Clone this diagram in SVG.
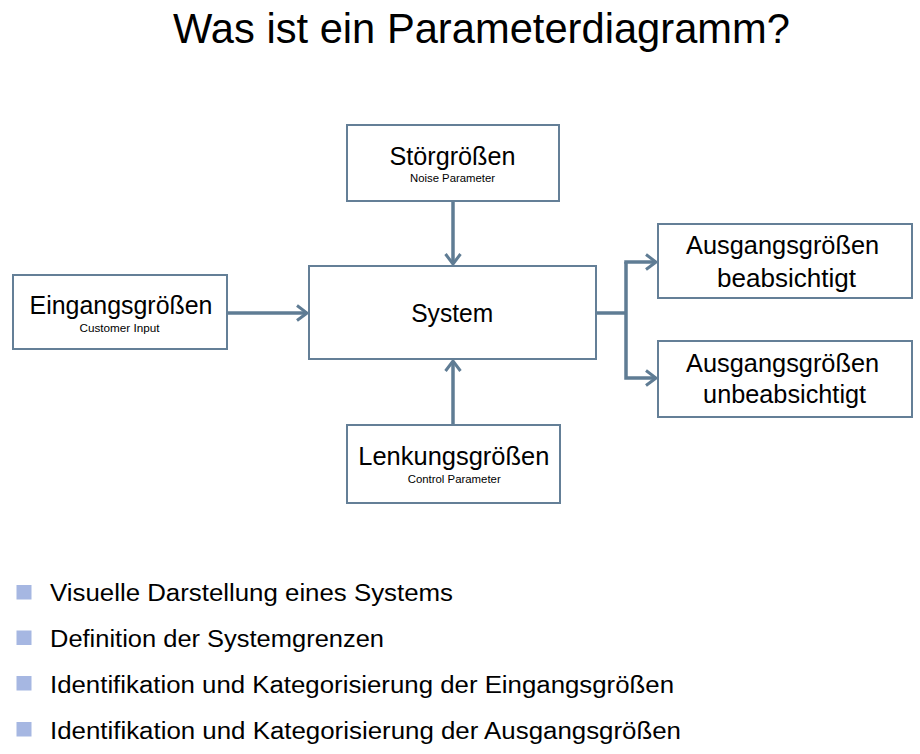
<svg xmlns="http://www.w3.org/2000/svg" width="920" height="754" viewBox="0 0 920 754">
<defs>
<style>
text{font-family:"Liberation Sans",Arial,sans-serif;fill:#000;}
.title{font-size:42px;}
.main{font-size:25.5px;text-anchor:middle;}
.sub{font-size:11px;text-anchor:middle;}
.bul{font-size:23.5px;}
.box{fill:#fff;stroke:#647f97;stroke-width:2;}
.con{fill:none;stroke:#5f7c94;stroke-width:3.5;}
.sq{fill:#a6b7e2;}
</style>
<marker id="arr" markerUnits="userSpaceOnUse" viewBox="0 0 14 18" markerWidth="14" markerHeight="18" refX="12" refY="9" orient="auto">
<path d="M2,1.5 L12,9 L2,16.5" fill="none" stroke="#5f7c94" stroke-width="3"/>
</marker>
</defs>
<rect width="920" height="754" fill="#fff"/>
<text class="title" x="173" y="43" textLength="617" lengthAdjust="spacingAndGlyphs">Was ist ein Parameterdiagramm?</text>

<g id="connectors">
<line class="con" x1="453" y1="201" x2="453" y2="264" marker-end="url(#arr)"/>
<line class="con" x1="227" y1="313" x2="307" y2="313" marker-end="url(#arr)"/>
<line class="con" x1="453" y1="425" x2="453" y2="361" marker-end="url(#arr)"/>
<line class="con" x1="596" y1="313" x2="626" y2="313"/>
<polyline class="con" points="626,262 626,378 656,378" marker-end="url(#arr)"/>
<line class="con" x1="624.25" y1="262" x2="656" y2="262" marker-end="url(#arr)"/>
</g>

<g id="stoerg">
<rect class="box" x="347" y="125" width="212" height="76"/>
<text class="main" x="452.5" y="165" textLength="126" lengthAdjust="spacingAndGlyphs">Störgrößen</text>
<text class="sub" x="452.5" y="181.5" textLength="85" lengthAdjust="spacingAndGlyphs">Noise Parameter</text>
</g>

<g id="eingang">
<rect class="box" x="13" y="275" width="214" height="74"/>
<text class="main" x="121" y="313.5" textLength="183" lengthAdjust="spacingAndGlyphs">Eingangsgrößen</text>
<text class="sub" x="119.5" y="331.5" textLength="80" lengthAdjust="spacingAndGlyphs">Customer Input</text>
</g>

<g id="system">
<rect class="box" x="309" y="266" width="287" height="93"/>
<text class="main" x="452.2" y="321.7" textLength="82" lengthAdjust="spacingAndGlyphs">System</text>
</g>

<g id="lenkung">
<rect class="box" x="347" y="425" width="213" height="78"/>
<text class="main" x="453.8" y="465" textLength="191" lengthAdjust="spacingAndGlyphs">Lenkungsgrößen</text>
<text class="sub" x="454.2" y="482.5" textLength="93" lengthAdjust="spacingAndGlyphs">Control Parameter</text>
</g>

<g id="ausgang1">
<rect class="box" x="658" y="224" width="254" height="74"/>
<text class="main" x="782.6" y="254.3" textLength="193" lengthAdjust="spacingAndGlyphs">Ausgangsgrößen</text>
<text class="main" x="786.6" y="286.5" textLength="139" lengthAdjust="spacingAndGlyphs">beabsichtigt</text>
</g>

<g id="ausgang2">
<rect class="box" x="658" y="341" width="254" height="76"/>
<text class="main" x="782.6" y="371.7" textLength="193" lengthAdjust="spacingAndGlyphs">Ausgangsgrößen</text>
<text class="main" x="784.6" y="403.3" textLength="163" lengthAdjust="spacingAndGlyphs">unbeabsichtigt</text>
</g>

<g id="bullets">
<rect class="sq" x="16.5" y="585" width="15" height="14.5"/>
<rect class="sq" x="16.5" y="630.5" width="15" height="14.5"/>
<rect class="sq" x="16.5" y="676" width="15" height="14.5"/>
<rect class="sq" x="16.5" y="722" width="15" height="14.5"/>
<text class="bul" x="50" y="601" textLength="403" lengthAdjust="spacingAndGlyphs">Visuelle Darstellung eines Systems</text>
<text class="bul" x="50" y="646.5" textLength="334" lengthAdjust="spacingAndGlyphs">Definition der Systemgrenzen</text>
<text class="bul" x="50" y="693" textLength="624" lengthAdjust="spacingAndGlyphs">Identifikation und Kategorisierung der Eingangsgrößen</text>
<text class="bul" x="50" y="739" textLength="631" lengthAdjust="spacingAndGlyphs">Identifikation und Kategorisierung der Ausgangsgrößen</text>
</g>
</svg>
